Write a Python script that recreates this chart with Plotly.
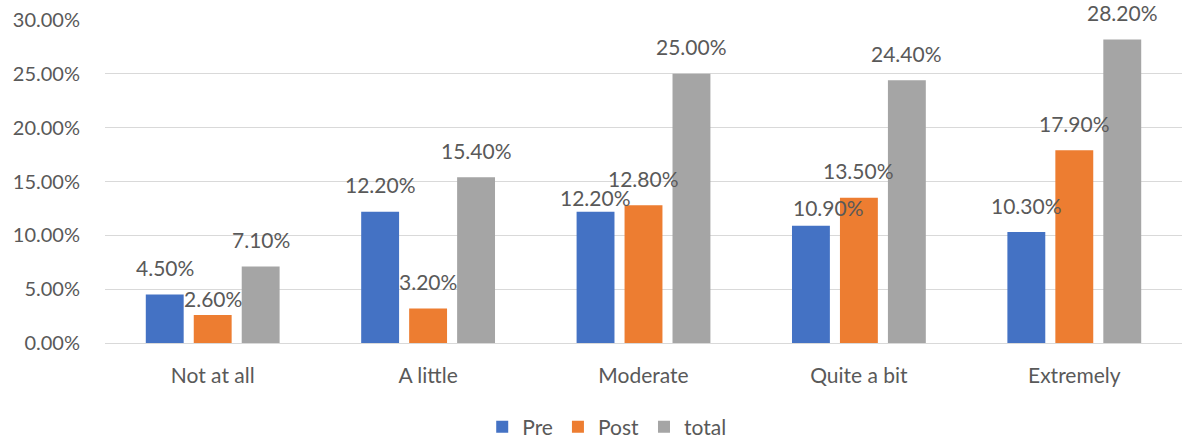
import plotly.graph_objects as go

categories = ["Not at all", "A little", "Moderate", "Quite a bit", "Extremely"]
pre = [4.5, 12.2, 12.2, 10.9, 10.3]
post = [2.6, 3.2, 12.8, 13.5, 17.9]
total = [7.1, 15.4, 25.0, 24.4, 28.2]
y_ticks = [0, 5, 10, 15, 20, 25, 30]

series = [
    ("Pre", pre, "#4472C4"),
    ("Post", post, "#ED7D31"),
    ("total", total, "#A5A5A5"),
]

FONT = "Lato, 'Open Sans', sans-serif"
TXT = "#595959"
SIZE = 21

fig = go.Figure()
for name, vals, color in series:
    fig.add_trace(go.Bar(
        name=name, x=categories, y=vals, marker=dict(color=color, line=dict(width=0)),
        offsetgroup=name,
    ))

# Data labels sit above each bar; a few are nudged where neighbours crowd them
label_shift = {("Pre", 2): 14, ("Post", 0): 17, ("Pre", 3): 18}
offsets = {"Pre": -1, "Post": 0, "total": 1}
group_w = 1 - 0.332
slot = group_w / 3
annotations = []
for name, vals, _ in series:
    for i, v in enumerate(vals):
        annotations.append(dict(
            x=i + offsets[name] * slot, y=v, xref="x", yref="y",
            text=f"{v:.2f}%", showarrow=False, yanchor="middle",
            yshift=label_shift.get((name, i), 27),
            xshift=18 if (name, i) == ("Pre", 3) else 0,
            font=dict(family=FONT, size=SIZE, color=TXT),
        ))

fig.update_layout(
    width=1185, height=439,
    margin=dict(l=105, r=3, t=20, b=96, autoexpand=False),
    paper_bgcolor="white", plot_bgcolor="white",
    barmode="group", bargap=0.332, bargroupgap=0.21,
    font=dict(family=FONT, size=SIZE, color=TXT),
    showlegend=True,
    legend=dict(orientation="h", x=0.512, xanchor="center", xref="container",
                y=0.027, yanchor="middle", yref="container",
                font=dict(family=FONT, size=SIZE, color=TXT), itemwidth=30,
                traceorder="normal"),
    annotations=annotations,
)
fig.update_xaxes(
    type="category", showgrid=False, showline=True, linecolor="#d9d9d9", linewidth=1,
    ticks="", ticklabelstandoff=14, automargin=False,
    tickfont=dict(family=FONT, size=SIZE, color=TXT),
)
fig.update_yaxes(
    range=[0, 30], tickvals=y_ticks, ticktext=[f"{t:.2f}%" for t in y_ticks],
    showgrid=True, gridcolor="#d9d9d9", gridwidth=1, zeroline=False,
    ticks="", ticklabelstandoff=24, automargin=False,
    tickfont=dict(family=FONT, size=20, color=TXT),
)

fig.write_html("out.html")
